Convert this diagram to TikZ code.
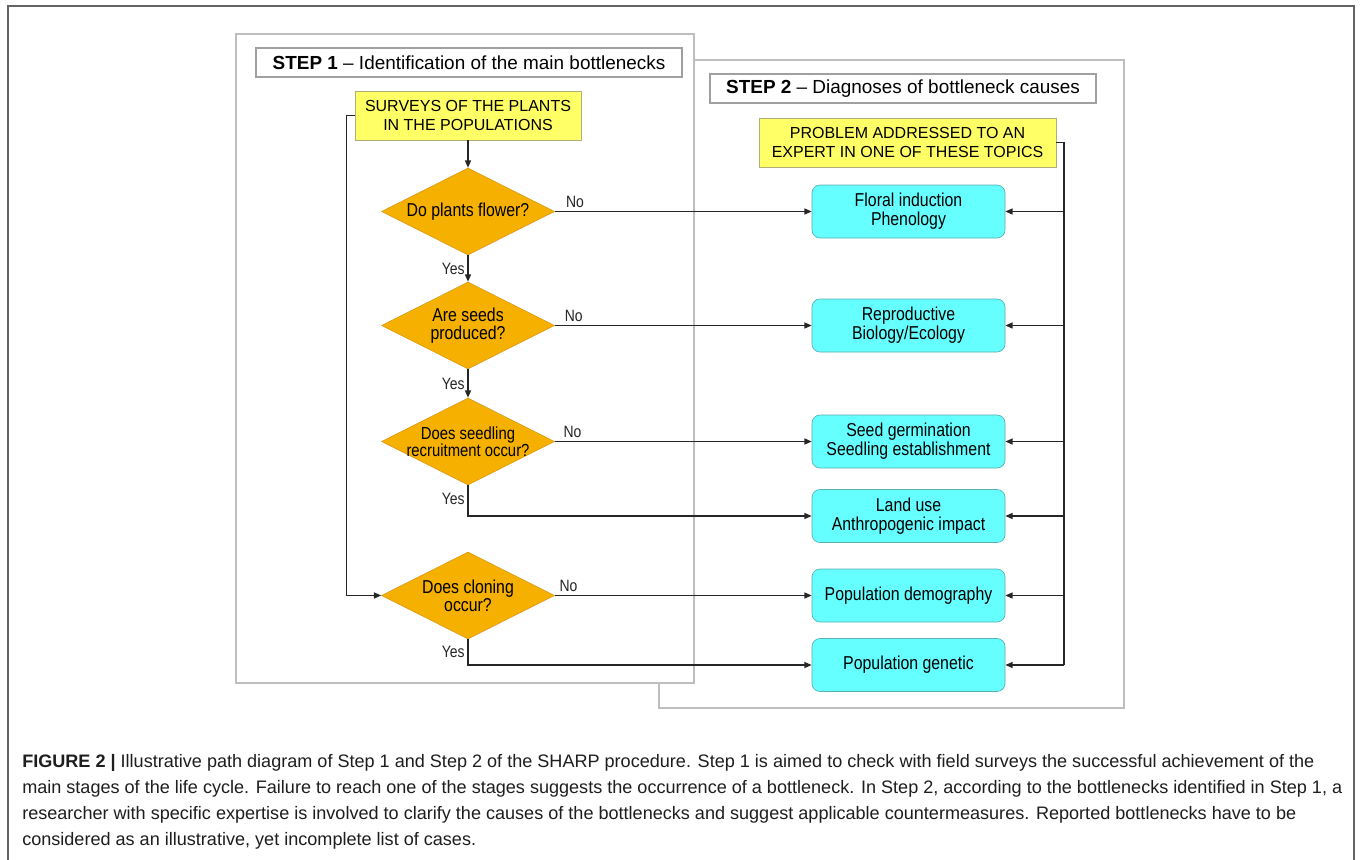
\documentclass[tikz,border=0pt]{standalone}
\usepackage{fontspec}
\setmainfont{Liberation Sans}
\newfontfamily\narrowA[FakeStretch=0.85]{Liberation Sans}
\newfontfamily\narrowB[FakeStretch=0.85]{Liberation Sans}
\usetikzlibrary{shapes.geometric,arrows.meta}
\definecolor{panelgray}{RGB}{190,190,190}
\definecolor{titlegray}{RGB}{160,160,160}
\definecolor{framegray}{RGB}{100,100,100}
\definecolor{dfill}{RGB}{245,176,0}
\definecolor{ddraw}{RGB}{215,150,20}
\definecolor{cfill}{RGB}{102,255,255}
\definecolor{cdraw}{RGB}{90,175,175}
\definecolor{yfill}{RGB}{255,255,102}
\definecolor{ydraw}{RGB}{175,175,120}
\definecolor{captext}{RGB}{30,30,30}
\begin{document}
\begin{tikzpicture}[x=0.75pt,y=-0.75pt,
  panel/.style={draw=panelgray,line width=0.8pt},
  titlebox/.style={draw=titlegray,fill=white,line width=0.8pt,inner sep=0pt,minimum width=#1,minimum height=21.75pt,font=\fontsize{14.2pt}{16pt}\selectfont},
  ybox/.style={draw=ydraw,fill=yfill,line width=0.5pt,inner sep=0pt,minimum width=#1,minimum height=36.75pt,align=center,font=\fontsize{12pt}{14.25pt}\selectfont},
  dia/.style={diamond,draw=ddraw,fill=dfill,line width=0.4pt,inner sep=0pt,minimum width=129.75pt,minimum height=65.25pt},
  dtext/.style={align=center,inner sep=0pt,font=\narrowA\fontsize{14pt}{13.7pt}\selectfont},
  dtextsmall/.style={align=center,inner sep=0pt,font=\narrowA\fontsize{13.1pt}{12.5pt}\selectfont},
  cbox/.style={draw=cdraw,fill=cfill,line width=0.5pt,rounded corners=6pt,inner sep=0pt,minimum width=144.75pt,minimum height=39.75pt,align=center,font=\narrowA\fontsize{14pt}{14.5pt}\selectfont},
  conn/.style={line width=1.1pt,black!85},
  arr/.style={conn,-{Triangle[length=5.5pt,width=4.5pt]}},
  yn/.style={font=\narrowB\fontsize{12.3pt}{13pt}\selectfont,inner sep=2pt},
  captxt/.style={anchor=base west,inner sep=0pt,text=captext,font=\fontsize{13.55pt}{15pt}\selectfont}
]
\useasboundingbox (0,0) rectangle (1360,860);
\fill[white] (0,0) rectangle (1360,860);
% outer frame (open at bottom)
\draw[framegray,line width=0.8pt] (8,860) -- (8,6) -- (1354,6) -- (1354,860);
% panels
\draw[panel,fill=white] (659,60) rectangle (1124,708);
\draw[panel,fill=white] (236,34) rectangle (694,683);
% titles
\node[titlebox=319.5pt] (t1) at (469,62.5) {\textbf{STEP 1} -- Identification of the main bottlenecks};
\node[titlebox=289.5pt] (t2) at (903,88.5) {\textbf{STEP 2} -- Diagnoses of bottleneck causes};
% yellow boxes
\node[ybox=169.5pt] (s1) at (468,115.5) {SURVEYS OF THE PLANTS\\IN THE POPULATIONS};
\node[ybox=222.75pt] (p2) at (907.5,142.5) {PROBLEM ADDRESSED TO AN\\EXPERT IN ONE OF THESE TOPICS};
% diamonds
\node[dia,label={[dtext]center:Do plants flower?}] (d1) at (468,211.5) {};
\node[dia,label={[dtext]center:Are seeds\\produced?}] (d2) at (468,325.5) {};
\node[dia,label={[dtextsmall]center:Does seedling\\recruitment occur?}] (d3) at (468,441.5) {};
\node[dia,label={[dtext]center:Does cloning\\occur?}] (d4) at (468,595.5) {};
% cyan boxes
\node[cbox] (c1) at (908.5,211.5) {Floral induction\\Phenology};
\node[cbox] (c2) at (908.5,325.5) {Reproductive\\Biology/Ecology};
\node[cbox] (c3) at (908.5,441.5) {Seed germination\\Seedling establishment};
\node[cbox] (c4) at (908.5,516) {Land use\\Anthropogenic impact};
\node[cbox] (c5) at (908.5,595.5) {Population demography};
\node[cbox] (c6) at (908.5,665) {Population genetic};
% step 1 connectors
\draw[arr] (s1.south) -- (d1.north);
\draw[arr] (d1.south) -- (d2.north) node[midway,left,yn] {Yes};
\draw[arr] (d2.south) -- (d3.north) node[midway,left,yn] {Yes};
\draw[arr] (d3.south) |- (c4.west) node[pos=0.22,left,yn] {Yes};
\draw[arr] (d4.south) |- (c6.west) node[pos=0.24,left,yn] {Yes};
\draw[arr] (d1.east) -- (c1.west) node[pos=0,anchor=south west,yn,xshift=6pt] {No};
\draw[arr] (d2.east) -- (c2.west) node[pos=0,anchor=south west,yn,xshift=5pt] {No};
\draw[arr] (d3.east) -- (c3.west) node[pos=0,anchor=south west,yn,xshift=4pt] {No};
\draw[arr] (d4.east) -- (c5.west) node[pos=0,anchor=south west,yn,xshift=1pt] {No};
\draw[arr] (s1.west) -- ++(-8,0) |- (d4.west);
% step 2 bus
\coordinate (bus) at (1064,0);
\draw[conn] (p2.east) -| (bus |- c6.east);
\foreach \c in {c1,c2,c3,c4,c5,c6}{
  \draw[arr] (bus |- \c.east) -- (\c.east);
}
% caption
\node[captxt] (cap1) at (22,767) {\textbf{FIGURE 2 |} Illustrative path diagram of Step 1 and Step 2 of the SHARP procedure. Step 1 is aimed to check with field surveys the successful achievement of the};
\node[captxt] (cap2) at (22,793) {main stages of the life cycle. Failure to reach one of the stages suggests the occurrence of a bottleneck. In Step 2, according to the bottlenecks identified in Step 1, a};
\node[captxt] (cap3) at (22,819) {researcher with specific expertise is involved to clarify the causes of the bottlenecks and suggest applicable countermeasures. Reported bottlenecks have to be};
\node[captxt] (cap4) at (22,845) {considered as an illustrative, yet incomplete list of cases.};
\end{tikzpicture}
\end{document}
